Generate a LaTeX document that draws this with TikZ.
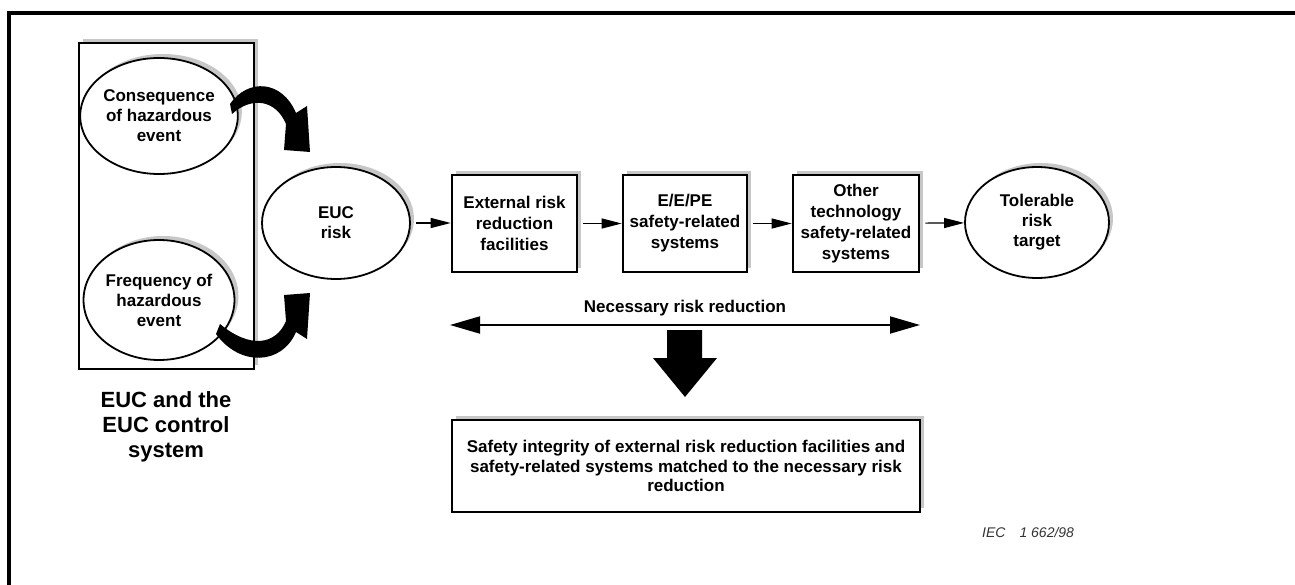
\documentclass[tikz,border=0pt]{standalone}
\usepackage{fontspec}
\setmainfont{Liberation Sans}
\usetikzlibrary{arrows.meta,shapes.geometric,shadows}
\tikzset{
  shd/.style={drop shadow={shadow xshift=4pt,shadow yshift=4pt,fill=black!22,opacity=1}},
  ellnode/.style={ellipse,draw,line width=1.8pt,fill=white,shd,inner sep=0pt,align=center,
    font=\fontsize{17}{20}\selectfont\bfseries},
  boxnode/.style={rectangle,draw,line width=2.6pt,fill=white,shd,inner sep=0pt,align=center,
    minimum height=97pt,font=\fontsize{17}{21}\selectfont\bfseries},
  flow/.style={line width=1.2pt,-{Triangle[length=20pt,width=10pt]},shorten <=5pt},
  bigarrow/.style={fill=black,draw=none}
}
\begin{document}
\begin{tikzpicture}[x=1pt,y=-1pt]
\useasboundingbox (0,0) rectangle (1295,585);
% outer frame (cropped)
\draw[line width=3.5pt] (9,585) -- (9,13) -- (1295,13);
% left container
\node[rectangle,draw,line width=2.8pt,fill=white,shd,minimum width=175pt,minimum height=326pt,inner sep=0pt] (sys) at (166.5,206) {};
\node[ellnode,minimum width=142pt,minimum height=116pt] (cons) at (159,116) {Consequence\\of hazardous\\event};
\node[ellnode,minimum width=142pt,minimum height=120pt] (freq) at (159,300) {Frequency of\\hazardous\\event};
\node[align=center,font=\fontsize{22}{25}\selectfont\bfseries] (euclab) at (166,427) {EUC and the\\EUC control\\system};
% curved arrows
\fill[bigarrow] (230,104) .. controls (248,78) and (282,80) .. (296,113) -- (307,106) -- (310,152) -- (284,150) -- (286,124) .. controls (276,100) and (252,96) .. (232,114) -- cycle;
\fill[bigarrow] (216,334) .. controls (240,367) and (282,365) .. (296,332) -- (307,339) -- (310,293) -- (284,295) -- (286,321) .. controls (276,345) and (250,349) .. (220,324) -- cycle;
% main chain
\node[ellnode,minimum width=148pt,minimum height=112pt] (euc) at (336,223) {EUC\\risk};
\node[boxnode,minimum width=125pt] (b1) at (514.5,223.5) {External risk\\reduction\\facilities};
\node[boxnode,minimum width=124pt] (b2) at (685,223.5) {E/E/PE\\safety-related\\systems};
\node[boxnode,minimum width=126pt] (b3) at (856,223.5) {Other\\technology\\safety-related\\systems};
\node[ellnode,minimum width=144pt,minimum height=111pt] (tol) at (1037,222.5) {Tolerable\\risk\\target};
\draw[flow] (euc.east) -- (b1.west |- euc.east);
\draw[flow] (b1) -- (b2);
\draw[flow] (b2) -- (b3);
\draw[flow] (b3) -- (tol);
% necessary risk reduction
\node[font=\fontsize{17}{20}\selectfont\bfseries] (nrr) at (685,308) {Necessary risk reduction};
\coordinate (nl) at (450,325);
\coordinate (nr) at (920,325);
\draw[line width=1.8pt,{Triangle[length=30pt,width=17pt]}-{Triangle[length=30pt,width=17pt]}] (nl) -- (nr);
\fill[bigarrow] (667,330) -- (702,330) -- (702,358) -- (717,358) -- (685,397) -- (653,358) -- (667,358) -- cycle;
\node[rectangle,draw,line width=2.6pt,fill=white,shd,minimum width=468pt,minimum height=92pt,inner sep=0pt,align=center,font=\fontsize{17}{19.5}\selectfont\bfseries] (sil) at (686,466) {Safety integrity of external risk reduction facilities and\\safety-related systems matched to the necessary risk\\reduction};
\node[anchor=west,inner sep=0pt,font=\fontsize{14}{16}\selectfont\itshape,text=black!80] (iec) at (982,532) {IEC\hspace{14pt}1 662/98};
\end{tikzpicture}
\end{document}
